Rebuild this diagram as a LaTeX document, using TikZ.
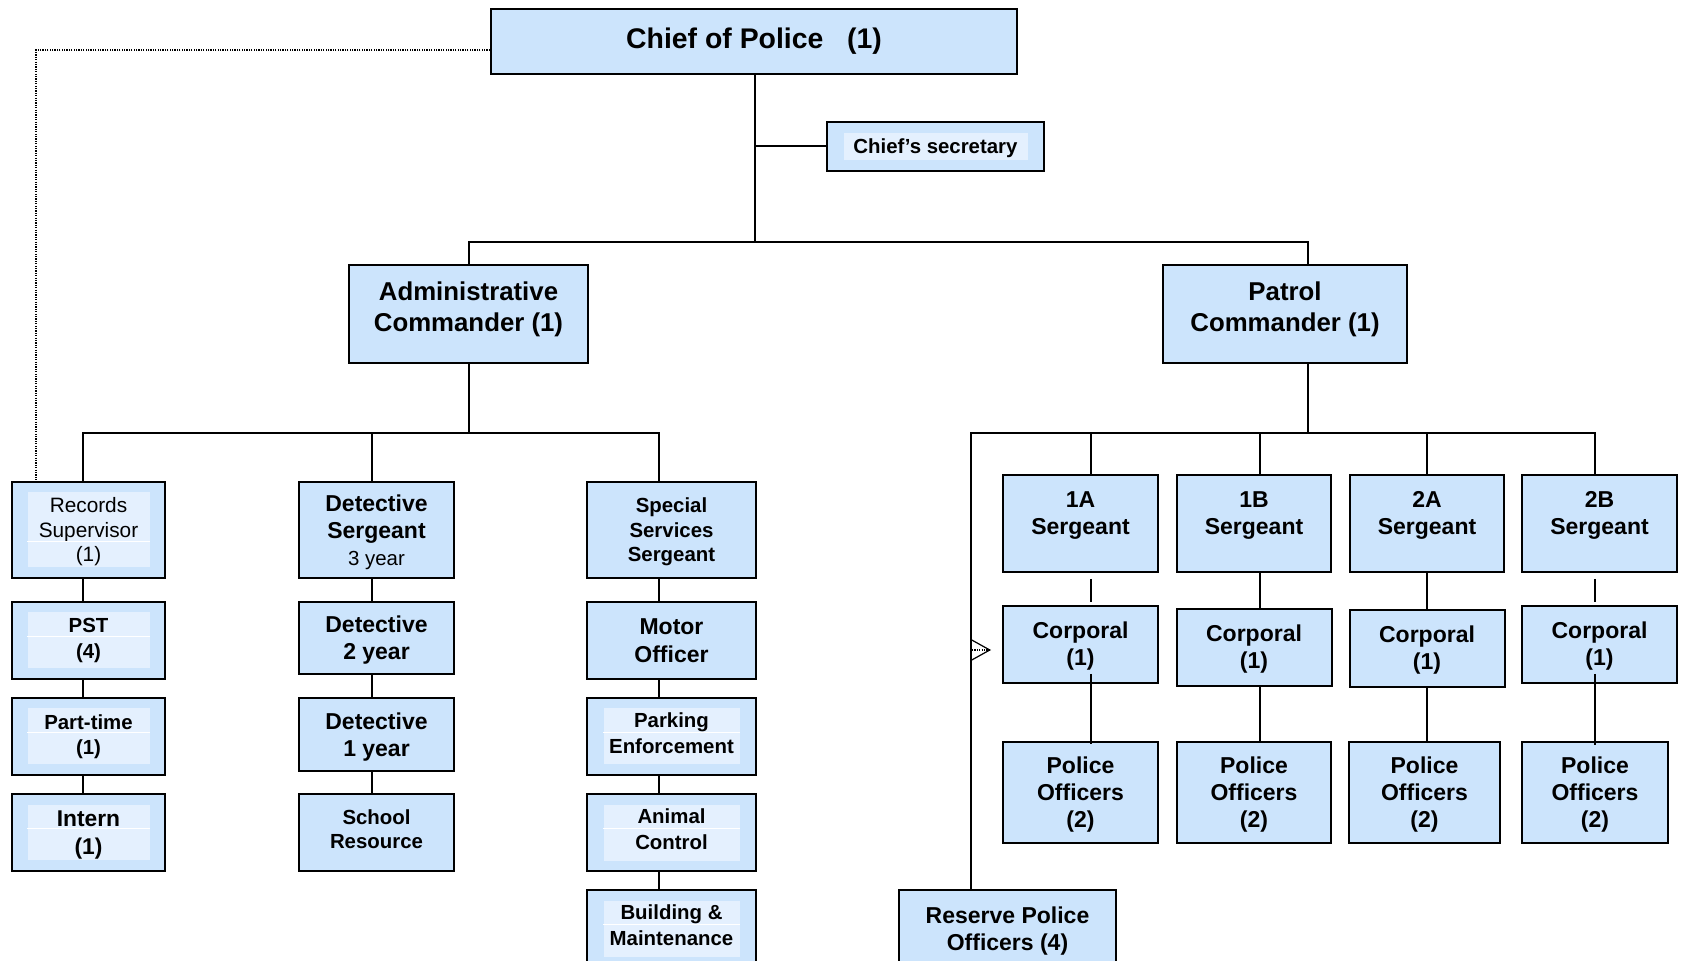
\documentclass[tikz,border=0pt]{standalone}
\usepackage{fontspec}
\setmainfont{Liberation Sans}
\usetikzlibrary{arrows.meta}
\definecolor{boxblue}{RGB}{204,228,252}
\definecolor{innerblue}{RGB}{228,240,254}

\begin{document}
\begin{tikzpicture}[x=0.5pt, y=-0.5pt,
    orgbox/.style={draw=black, line width=1pt, fill=boxblue, inner sep=0pt, align=center,
        font=\bfseries\fontsize{11.5}{13.5}\selectfont},
    smallbox/.style={orgbox, font=\bfseries\fontsize{10.2}{12.3}\selectfont},
    innerbox/.style={fill=innerblue, inner sep=0pt, align=center,
        font=\bfseries\fontsize{10.2}{12.6}\selectfont},
    sepline/.style={white, line width=0.5pt},
    conn/.style={line width=1pt},
    dotline/.style={line width=0.7pt, dash pattern=on 0.6pt off 0.6pt}]

\useasboundingbox (0,0) rectangle (1681,961);
\clip (0,0) rectangle (1681,961);

    % Chief and secretary
    \node[orgbox, minimum width=263pt, minimum height=32.5pt,
        font=\bfseries\fontsize{14.2}{17}\selectfont] (chief) at (754,41.5) {Chief of Police~~~(1)};
    \node[orgbox, minimum width=108.5pt, minimum height=24.5pt] (sec) at (935.5,146.5) {};
    \node[innerbox, minimum width=92pt, minimum height=13.5pt, text depth=0pt] (secin) at (sec.center) {Chief’s secretary};

    % Commanders
    \node[orgbox, minimum width=119.5pt, minimum height=49pt, text depth=7.1pt,
        font=\bfseries\fontsize{12.9}{15.5}\selectfont] (admin) at (468.5,314) {Administrative\\Commander (1)};
    \node[orgbox, minimum width=122pt, minimum height=49pt, text depth=7.1pt,
        font=\bfseries\fontsize{12.9}{15.5}\selectfont] (patrol) at (1285,314) {Patrol\\Commander (1)};

    % Records column
    \node[orgbox, minimum width=76.5pt, minimum height=48pt] (rec) at (88.5,530) {};
    \node[innerbox, minimum width=61pt, minimum height=37.5pt, text depth=0.1pt,
        font=\fontsize{10.4}{12.25}\selectfont] (recin) at (rec.center) {Records\\Supervisor\\(1)};
    \draw[sepline] ([yshift=-5.75pt]recin.west) -- ([yshift=-5.75pt]recin.east);
    \foreach \n/\y/\t in {pst/640.5/{PST\\(4)}, part/736.5/{Part-time\\(1)}} {
        \node[orgbox, minimum width=76.5pt, minimum height=38.5pt] (\n) at (88.5,\y) {};
        \node[innerbox, minimum width=61pt, minimum height=28pt] (\n-in) at (\n.center) {\t};
        \draw[sepline] ([yshift=2pt]\n-in.west) -- ([yshift=2pt]\n-in.east);
    }
    \node[orgbox, minimum width=76.5pt, minimum height=38.5pt] (intern) at (88.5,832.5) {};
    \node[innerbox, minimum width=61pt, minimum height=27.5pt, text depth=-0.3pt,
        font=\bfseries\fontsize{11.4}{14}\selectfont] (internin) at (intern.center) {Intern\\(1)};
    \draw[sepline] ([yshift=2pt]internin.west) -- ([yshift=2pt]internin.east);

    % Detective column
    \node[orgbox, minimum width=77.5pt, minimum height=48pt, text depth=-4.4pt] (dsgt) at (376.5,530)
        {Detective\\Sergeant\\{\normalfont\fontsize{10.2}{12}\selectfont 3 year}};
    \node[orgbox, minimum width=77.5pt, minimum height=36pt, text depth=-3.2pt] (det2) at (376.5,638) {Detective\\2 year};
    \node[orgbox, minimum width=77.5pt, minimum height=36.5pt, text depth=-2.6pt] (det1) at (376.5,734.5) {Detective\\1 year};
    \node[smallbox, minimum width=77.5pt, minimum height=38.5pt, text depth=3.2pt] (school) at (376.5,832.5) {School\\Resource};

    % Special services column
    \node[smallbox, minimum width=84.5pt, minimum height=48pt, text depth=0pt] (spec) at (671.5,530) {Special\\Services\\Sergeant};
    \node[orgbox, minimum width=84.5pt, minimum height=38.5pt,
        font=\bfseries\fontsize{11.5}{14}\selectfont] (motor) at (671.5,640.5) {Motor\\Officer};
    \foreach \n/\y/\t in {park/736.5/{Parking\\Enforcement}, animal/832.5/{Animal\\Control},
                          build/928.5/{Building \&\\Maintenance}} {
        \node[orgbox, minimum width=84.5pt, minimum height=38.5pt] (\n) at (671.5,\y) {};
        \node[innerbox, minimum width=68pt, minimum height=28pt, text depth=3.4pt] (\n-in) at (\n.center) {\t};
        \draw[sepline] ([yshift=2pt]\n-in.west) -- ([yshift=2pt]\n-in.east);
    }

    % Patrol columns
    \foreach \n/\x/\w/\lab in {1a/1080.5/77.5pt/1A, 1b/1254/77pt/1B, 2a/1427/77pt/2A, 2b/1599.5/77.5pt/2B} {
        \node[orgbox, minimum width=\w, minimum height=48.5pt, text depth=10.3pt] (s\n) at (\x,523.5) {\lab\\Sergeant};
    }
    \foreach \n/\x/\y in {1a/1080.5/644.5, 1b/1254/648, 2a/1427/648.5, 2b/1599.5/644.5} {
        \node[orgbox, minimum width=77.5pt, minimum height=38.5pt, text depth=1.3pt] (c\n) at (\x,\y) {Corporal\\(1)};
    }
    \foreach \n/\x/\w in {1a/1080.5/77.5pt, 1b/1254/77pt, 2a/1424.5/75.5pt, 2b/1595/73pt} {
        \node[orgbox, minimum width=\w, minimum height=50pt, text depth=-5pt] (p\n) at (\x,792.5) {Police\\Officers\\(2)};
    }
    \node[orgbox, minimum width=108.5pt, minimum height=38.5pt, text depth=-0.3pt] (reserve) at (1007.5,928.5) {Reserve Police\\Officers (4)};

    % Bus points
    \coordinate (tbus) at (755,242);
    \coordinate (ptop) at (1308,242);
    \coordinate (abusL) at (83,433);
    \coordinate (abusR) at (659,433);
    \coordinate (detx) at (372,433);
    \coordinate (pbusL) at (971,433);
    \coordinate (pbusR) at (1595,433);
    \coordinate (x1a) at (1091,433);
    \coordinate (x1b) at (1260,433);
    \coordinate (x2a) at (1427,433);
    \coordinate (dotend) at (36,480);
    \coordinate (arr) at (972,650);

    % Lines from the top
    \draw[conn] (tbus |- chief.south) -- (tbus);
    \draw[conn] (tbus |- sec.west) -- (sec.west);
    \draw[conn] (admin.north) |- (ptop) -- (ptop |- patrol.north);
    \draw[dotline] ([yshift=-4.25pt]chief.west) -| (dotend);

    % Administrative side
    \draw[conn] (admin.south) -- (admin.south |- abusL);
    \draw[conn] (abusL |- rec.north) -- (abusL) -- (abusR) -- (abusR |- spec.north);
    \draw[conn] (detx) -- (detx |- dsgt.north);
    \foreach \a/\b in {rec/pst, pst/part, part/intern}
        \draw[conn] (abusL |- \a.south) -- (abusL |- \b.north);
    \foreach \a/\b in {dsgt/det2, det2/det1, det1/school}
        \draw[conn] (detx |- \a.south) -- (detx |- \b.north);
    \foreach \a/\b in {spec/motor, motor/park, park/animal, animal/build}
        \draw[conn] (abusR |- \a.south) -- (abusR |- \b.north);

    % Patrol side
    \draw[conn] (ptop |- patrol.south) -- (ptop |- pbusL);
    \draw[conn] (pbusL |- reserve.north) -- (pbusL) -- (pbusR) -- (pbusR |- s2b.north);
    \foreach \c/\n in {x1a/1a, x1b/1b, x2a/2a}
        \draw[conn] (\c) -- (\c |- s\n.north);
    \draw[conn] (x1b |- s1b.south) -- (x1b |- c1b.north);
    \draw[conn] (x2a |- s2a.south) -- (x2a |- c2a.north);
    \draw[conn, shorten <=3pt, shorten >=1.5pt] (x1a |- s1a.south) -- (x1a |- c1a.north);
    \draw[conn, shorten <=3pt, shorten >=1.5pt] (pbusR |- s2b.south) -- (pbusR |- c2b.north);
    \draw[conn] (x1b |- c1b.south) -- (x1b |- p1b.north);
    \draw[conn] (x2a |- c2a.south) -- (x2a |- p2a.north);
    \draw[conn, shorten <=-5pt, shorten >=-1.5pt] (x1a |- c1a.south) -- (x1a |- p1a.north);
    \draw[conn, shorten <=-5pt, shorten >=-2pt] (pbusR |- c2b.south) -- (pbusR |- p2b.north);
    \draw[dotline, shorten >=5.5pt, -{Straight Barb[length=9pt, width=10pt, line width=0.6pt]}]
        (arr) -- (arr -| c1a.west);

\end{tikzpicture}
\end{document}
